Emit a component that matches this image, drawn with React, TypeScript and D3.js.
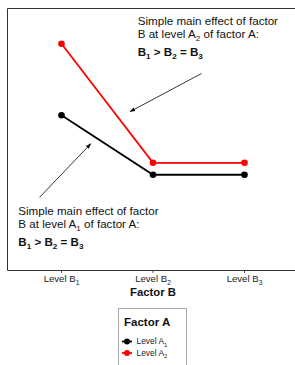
import * as d3 from "d3";

// levels of factor B along the x axis
const levelsB = ["B1", "B2", "B3"];
// cell means, one list per level of factor A
const meansA1 = [8, 3, 3];
const meansA2 = [14, 4, 4];
const seriesNames = ["A1", "A2"];
const seriesColors = ["#000000", "#ff0000"];

const W = 295;
const H = 365;
const FONT = "'Liberation Sans', Arial, Helvetica, sans-serif";

// subscript tspan; `after` is the text that follows back on the baseline
function subParts(sub: string, size: number, after?: string) {
  const parts = [
    <tspan key="s" fontSize={size * 0.7} dy={size * 0.28}>{sub}</tspan>,
  ];
  if (after) parts.push(<tspan key="a" dy={-size * 0.28}>{after}</tspan>);
  return parts;
}

function Annotation({ x, y, level }: { x: number; y: number; level: string }) {
  const fs = 11.6;
  return (
    <text x={x} y={y} fontFamily={FONT} fontSize={fs} fill="#111">
      <tspan x={x}>Simple main effect of factor</tspan>
      <tspan x={x} dy={12.7}>B at level A</tspan>
      {subParts(level, fs, " of factor A:")}
      <tspan x={x} dy={18.5} fontWeight="bold">
        B<tspan fontSize={fs * 0.7} dy={fs * 0.28}>1</tspan>
        <tspan dy={-fs * 0.28}> &gt; B</tspan>
        <tspan fontSize={fs * 0.7} dy={fs * 0.28}>2</tspan>
        <tspan dy={-fs * 0.28}> = B</tspan>
        <tspan fontSize={fs * 0.7} dy={fs * 0.28}>3</tspan>
      </tspan>
    </text>
  );
}

export default function App() {
  const left = 7;
  const top = 8;
  const bottom = 270;

  const x = d3.scalePoint<string>().domain(levelsB).range([61.5, 244.5]);
  // same axis as a continuous index, for placing the notes
  const xi = d3.scaleLinear().domain([0, 2]).range([61.5, 244.5]);
  const y = d3.scaleLinear().domain([-5, 17]).range([bottom, top]);

  const line = d3
    .line<number>()
    .x((_, i) => x(levelsB[i]) as number)
    .y((d) => y(d));

  const series = [meansA1, meansA2];

  // arrows: [from idx, from val, to idx, to val]
  const arrows = [
    [1.53, 11.5, 0.75, 8.3],
    [-0.24, 1.1, 0.32, 5.6],
  ];

  return (
    <svg width={W} height={H} style={{ position: "absolute", left: 0, top: 0 }}>
      <defs>
        <marker id="arr" viewBox="0 0 10 10" refX="9" refY="5" markerWidth="7" markerHeight="7" orient="auto-start-reverse">
          <path d="M0,1.5 L10,5 L0,8.5 Z" fill="#000" />
        </marker>
      </defs>
      <rect x={0} y={0} width={W} height={H} fill="#fff" />
      {/* panel frame, open on the right */}
      <path
        d={`M${W + 2},${top + 0.5} H${left + 0.5} V${bottom + 0.5} H${W + 2}`}
        fill="none"
        stroke="#333"
        strokeWidth={1}
      />
      {/* ticks */}
      {levelsB.map((b) => (
        <line key={b} x1={x(b)} x2={x(b)} y1={bottom + 1} y2={bottom + 3} stroke="#333" strokeWidth={0.8} />
      ))}
      {/* tick labels */}
      {levelsB.map((b) => (
        <text key={"l" + b} x={x(b)} y={282} textAnchor="middle" fontFamily={FONT} fontSize={9.6} fill="#222">
          <tspan>Level B</tspan>
          {subParts(b.slice(1), 9.6)}
        </text>
      ))}
      <text x={x("B2")} y={296} textAnchor="middle" fontFamily={FONT} fontSize={11.3} fontWeight="bold" fill="#111">
        Factor B
      </text>

      {/* lines and points, A1 drawn after A2 so black sits on top */}
      {[1, 0].map((s) => (
        <g key={seriesNames[s]}>
          <path d={line(series[s]) || ""} fill="none" stroke={seriesColors[s]} strokeWidth={1.8} />
          {series[s].map((v, i) => (
            <circle key={i} cx={x(levelsB[i])} cy={y(v)} r={3.3} fill={seriesColors[s]} />
          ))}
        </g>
      ))}

      {/* arrows */}
      {arrows.map((a, i) => (
        <line
          key={i}
          x1={xi(a[0])}
          y1={y(a[1])}
          x2={xi(a[2])}
          y2={y(a[3])}
          stroke="#000"
          strokeWidth={0.8}
          markerEnd="url(#arr)"
        />
      ))}

      <Annotation x={xi(0.833)} y={25} level="2" />
      <Annotation x={xi(-0.472)} y={215} level="1" />

      {/* legend */}
      <rect x={118.5} y={308.5} width={68} height={70} fill="#fff" stroke="#aaa" strokeWidth={1} />
      <text x={124} y={326} fontFamily={FONT} fontSize={11.5} fontWeight="bold" fill="#111">
        Factor A
      </text>
      {seriesNames.map((n, i) => {
        const cy = 341.5 + i * 11.5;
        return (
          <g key={n}>
            <line x1={122} x2={132} y1={cy} y2={cy} stroke={seriesColors[i]} strokeWidth={1.8} />
            <circle cx={127} cy={cy} r={3} fill={seriesColors[i]} />
            <text x={136.5} y={cy + 2.8} fontFamily={FONT} fontSize={8.4} fill="#222">
              <tspan>Level A</tspan>
              {subParts(n.slice(1), 8.4)}
            </text>
          </g>
        );
      })}
    </svg>
  );
}
